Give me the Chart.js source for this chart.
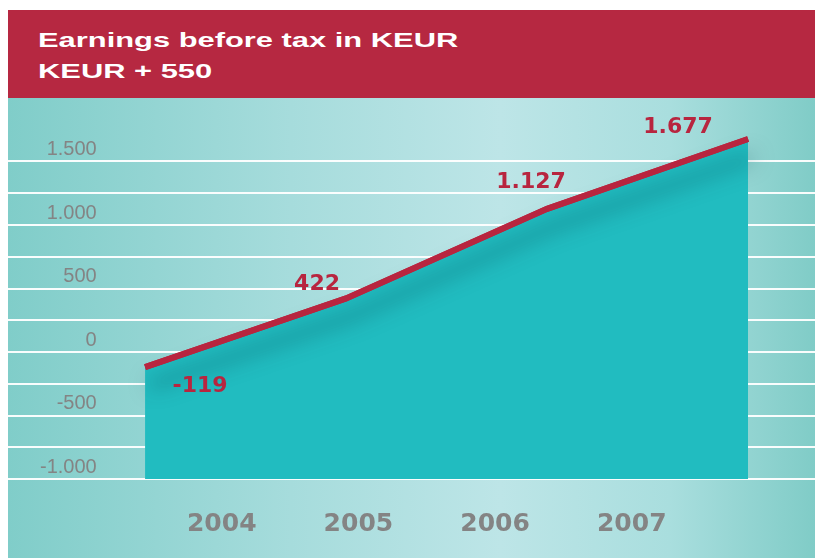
<!DOCTYPE html>
<html>
<head>
<meta charset="utf-8">
<script src="https://cdn.jsdelivr.net/npm/chart.js@4.4.1/dist/chart.umd.min.js"></script>
<style>
  html, body { margin: 0; padding: 0; background: #fff; }
  #wrap { position: relative; width: 815px; height: 558px; overflow: hidden; }
  #head { position: absolute; left: 8px; top: 10px; width: 807px; height: 88px; background: #b62841; }
  .t { position: absolute; left: 30px; color: #fff; font: bold 21px/21px "Liberation Sans"; transform: scaleX(1.47); transform-origin: 0 0; white-space: nowrap; }
  #plot { position: absolute; left: 8px; top: 98px; width: 807px; height: 460px;
    background: linear-gradient(to right, #80cdc9 0%, #a6dcdc 35%, #bde5e7 61%, #a9dede 82%, #80ccc7 100%); }
</style>
</head>
<body>
<div id="wrap">
  <div id="head">
    <div class="t" style="top:19px">Earnings before tax in KEUR</div>
    <div class="t" style="top:50px">KEUR + 550</div>
  </div>
  <div id="plot"><canvas id="c" width="807" height="460"></canvas></div>
</div>
<script>
const years = [2004, 2005, 2006, 2007];
const earnings = [-119, 422, 1127, 1677];
const yLabels = [-1000, -500, 0, 500, 1000, 1500];
const gridStep = 250;

const RED = '#b8253f';
const GREY = '#848484';

// german thousands separator: 1677 -> 1.677
const fmt = v => String(v).replace(/\B(?=(\d{3})+(?!\d))/g, '.');
const points = years.map((yr, i) => ({ x: yr, y: earnings[i] }));

// where each value label sits relative to its point
const labelShift = [[55, 19], [-29, -14], [-16, -27], [-70, -12]];

const decor = {
    id: 'decor',
    beforeDatasetDraw(chart, args) {
        if (args.index !== 0) return;
        const ctx = chart.ctx;
        ctx.save();
        ctx.shadowColor = 'rgba(0, 65, 75, 0.55)';
        ctx.shadowBlur = 20;
        ctx.shadowOffsetX = 5;
        ctx.shadowOffsetY = 18;
    },
    afterDatasetDraw(chart, args) {
        if (args.index === 0) chart.ctx.restore();
    },
    afterDraw(chart) {
        const ctx = chart.ctx;
        const meta = chart.getDatasetMeta(0);
        // put the line back on top of the grid
        meta.dataset.draw(ctx, chart.chartArea);
        ctx.save();
        ctx.fillStyle = RED;
        ctx.font = 'bold 22px "DejaVu Sans"';
        ctx.textAlign = 'center';
        ctx.textBaseline = 'middle';
        meta.data.forEach((pt, i) => {
            ctx.fillText(fmt(earnings[i]), pt.x + labelShift[i][0], pt.y + labelShift[i][1]);
        });
        ctx.restore();
    }
};

new Chart(document.getElementById('c'), {
    type: 'line',
    data: {
        datasets: [
            { data: points, borderColor: RED, borderWidth: 6, pointRadius: 0, fill: false, tension: 0 },
            { data: points, borderWidth: 0, pointRadius: 0, fill: 'start', backgroundColor: '#21bcc0' }
        ]
    },
    options: {
        responsive: false,
        animation: false,
        layout: { padding: 0 },
        plugins: { legend: { display: false }, tooltip: { enabled: false } },
        scales: {
            x: { type: 'linear', display: false, min: 2003.318, max: 2007.333 },
            years: {
                type: 'linear', position: 'bottom', min: 2002.436, max: 2008.341,
                afterBuildTicks: s => { s.ticks = years.map(v => ({ value: v })); },
                afterFit: s => { s.height = 79; s.paddingLeft = 0; s.paddingRight = 0; },
                grid: { display: false, drawTicks: false },
                border: { display: false },
                ticks: {
                    padding: 30, color: GREY, maxRotation: 0, autoSkip: false,
                    font: { family: 'DejaVu Sans', weight: 'bold', size: 25 },
                    callback: v => String(v)
                }
            },
            y: {
                min: -1000, max: 2000, z: 1,
                afterBuildTicks: s => {
                    const t = [];
                    for (let v = yLabels[0]; v <= yLabels[yLabels.length - 1]; v += gridStep) t.push({ value: v });
                    s.ticks = t;
                },
                afterFit: s => { s.width = 0; s.paddingTop = 0; s.paddingBottom = 0; },
                grid: { color: 'rgba(255,255,255,0.95)', lineWidth: 2, drawTicks: false },
                border: { display: false },
                ticks: {
                    mirror: true, crossAlign: 'far', padding: 32, labelOffset: -12,
                    color: GREY, font: { family: 'Liberation Sans', size: 20 },
                    callback: v => yLabels.includes(v) ? fmt(v) : ''
                }
            }
        }
    },
    plugins: [decor]
});
</script>
</body>
</html>
